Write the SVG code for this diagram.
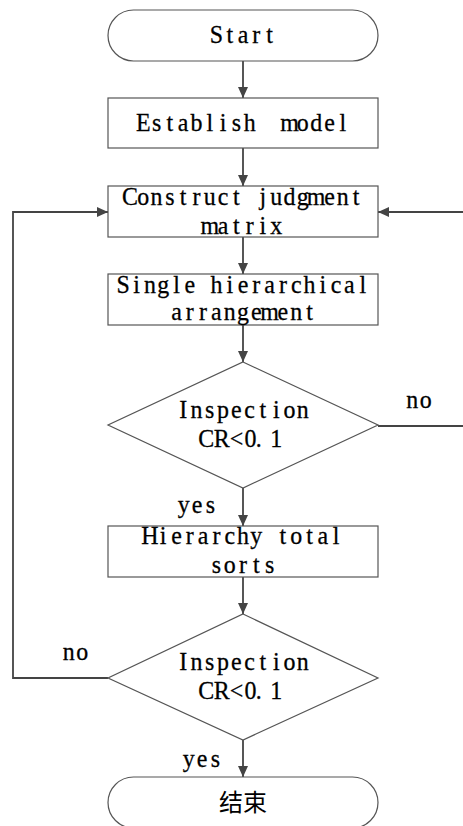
<svg xmlns="http://www.w3.org/2000/svg" width="463" height="826" viewBox="0 0 463 826">
<style>
.shape{fill:#fff;stroke:#555;stroke-width:1.2}
.conn{fill:none;stroke:#444;stroke-width:1.8}
text{font-family:"Liberation Serif","Noto Sans CJK SC",serif;font-size:26px;fill:#000;stroke:#000;stroke-width:0.3;text-anchor:middle}
.cjk{font-family:"Noto Sans CJK SC","Liberation Sans",sans-serif;font-size:24px;stroke:none}
</style>
<defs>
<marker id="arr" markerWidth="12" markerHeight="12" refX="11" refY="5" orient="auto" markerUnits="userSpaceOnUse">
<path d="M0,0 L11,5 L0,10 Z" fill="#444"/>
</marker>
</defs>
<rect width="463" height="826" fill="#fff"/>
<g id="connectors">
<line class="conn" x1="243" y1="61" x2="243" y2="98" marker-end="url(#arr)"/>
<line class="conn" x1="243" y1="148" x2="243" y2="186" marker-end="url(#arr)"/>
<line class="conn" x1="243" y1="237" x2="243" y2="274" marker-end="url(#arr)"/>
<line class="conn" x1="243" y1="325" x2="243" y2="362" marker-end="url(#arr)"/>
<line class="conn" x1="243" y1="488" x2="243" y2="526" marker-end="url(#arr)"/>
<line class="conn" x1="243" y1="577" x2="243" y2="614" marker-end="url(#arr)"/>
<line class="conn" x1="243" y1="740" x2="243" y2="777" marker-end="url(#arr)"/>
<path class="conn" d="M378,426 H468 V212 H378" marker-end="url(#arr)"/>
<path class="conn" d="M108,678 H13 V212 H108" marker-end="url(#arr)"/>
<text transform="translate(419,0) scale(0.92,1)" x="-7.23 7.23" y="408">no</text>
<text transform="translate(197,0) scale(0.92,1)" x="-14.46 0 14.46" y="513">yes</text>
<text transform="translate(75.5,0) scale(0.92,1)" x="-7.23 7.23" y="660">no</text>
<text transform="translate(202,0) scale(0.92,1)" x="-14.46 0 14.46" y="767">yes</text>
</g>
<g id="start">
<rect class="shape" x="108" y="10" width="270" height="51" rx="25.5" ry="25.5"/>
<text transform="translate(243,0) scale(0.92,1)" x="-28.92 -14.46 0 14.46 28.92" y="43">Start</text>
</g>
<g id="establish">
<rect class="shape" x="108" y="98" width="270" height="50"/>
<text transform="translate(243,0) scale(0.92,1)" x="-108.45 -93.99 -79.53 -65.07 -50.61 -36.15 -21.69 -7.23 7.23 21.69 36.15 50.61 65.07 79.53 93.99 108.45" y="131" xml:space="preserve">Establish  model</text>
</g>
<g id="construct">
<rect class="shape" x="108" y="186" width="270" height="51"/>
<text transform="translate(243,0) scale(0.92,1)" x="-122.91 -108.45 -93.99 -79.53 -65.07 -50.61 -36.15 -21.69 -7.23 7.23 21.69 36.15 50.61 65.07 79.53 93.99 108.45 122.91" y="205">Construct judgment</text>
<text transform="translate(243,0) scale(0.92,1)" x="-36.15 -21.69 -7.23 7.23 21.69 36.15" y="234">matrix</text>
</g>
<g id="single">
<rect class="shape" x="108" y="274" width="270" height="51"/>
<text transform="translate(243,0) scale(0.92,1)" x="-130.14 -115.68 -101.22 -86.76 -72.3 -57.84 -43.38 -28.92 -14.46 0 14.46 28.92 43.38 57.84 72.3 86.76 101.22 115.68 130.14" y="293">Single hierarchical</text>
<text transform="translate(243,0) scale(0.92,1)" x="-72.3 -57.84 -43.38 -28.92 -14.46 0 14.46 28.92 43.38 57.84 72.3" y="320">arrangement</text>
</g>
<g id="inspect1">
<polygon class="shape" points="243,362 378,425 243,488 108,425"/>
<text transform="translate(243,0) scale(0.92,1)" x="-65.07 -50.61 -36.15 -21.69 -7.23 7.23 21.69 36.15 50.61 65.07" y="418">Inspection</text>
<text transform="translate(243,0) scale(0.92,1)" x="-40 -23 -7 8 17 36" y="447">CR&lt;0.1</text>
</g>
<g id="hierarchy">
<rect class="shape" x="108" y="526" width="270" height="51"/>
<text transform="translate(243,0) scale(0.92,1)" x="-101.22 -86.76 -72.3 -57.84 -43.38 -28.92 -14.46 0 14.46 28.92 43.38 57.84 72.3 86.76 101.22" y="544">Hierarchy total</text>
<text transform="translate(243,0) scale(0.92,1)" x="-28.92 -14.46 0 14.46 28.92" y="573">sorts</text>
</g>
<g id="inspect2">
<polygon class="shape" points="243,614 378,678 243,740 108,678"/>
<text transform="translate(243,0) scale(0.92,1)" x="-65.07 -50.61 -36.15 -21.69 -7.23 7.23 21.69 36.15 50.61 65.07" y="670">Inspection</text>
<text transform="translate(243,0) scale(0.92,1)" x="-40 -23 -7 8 17 36" y="699">CR&lt;0.1</text>
</g>
<g id="end">
<rect class="shape" x="108" y="777" width="270" height="51" rx="25.5" ry="25.5"/>
<text class="cjk" x="243" y="811">结束</text>
</g>
</svg>
